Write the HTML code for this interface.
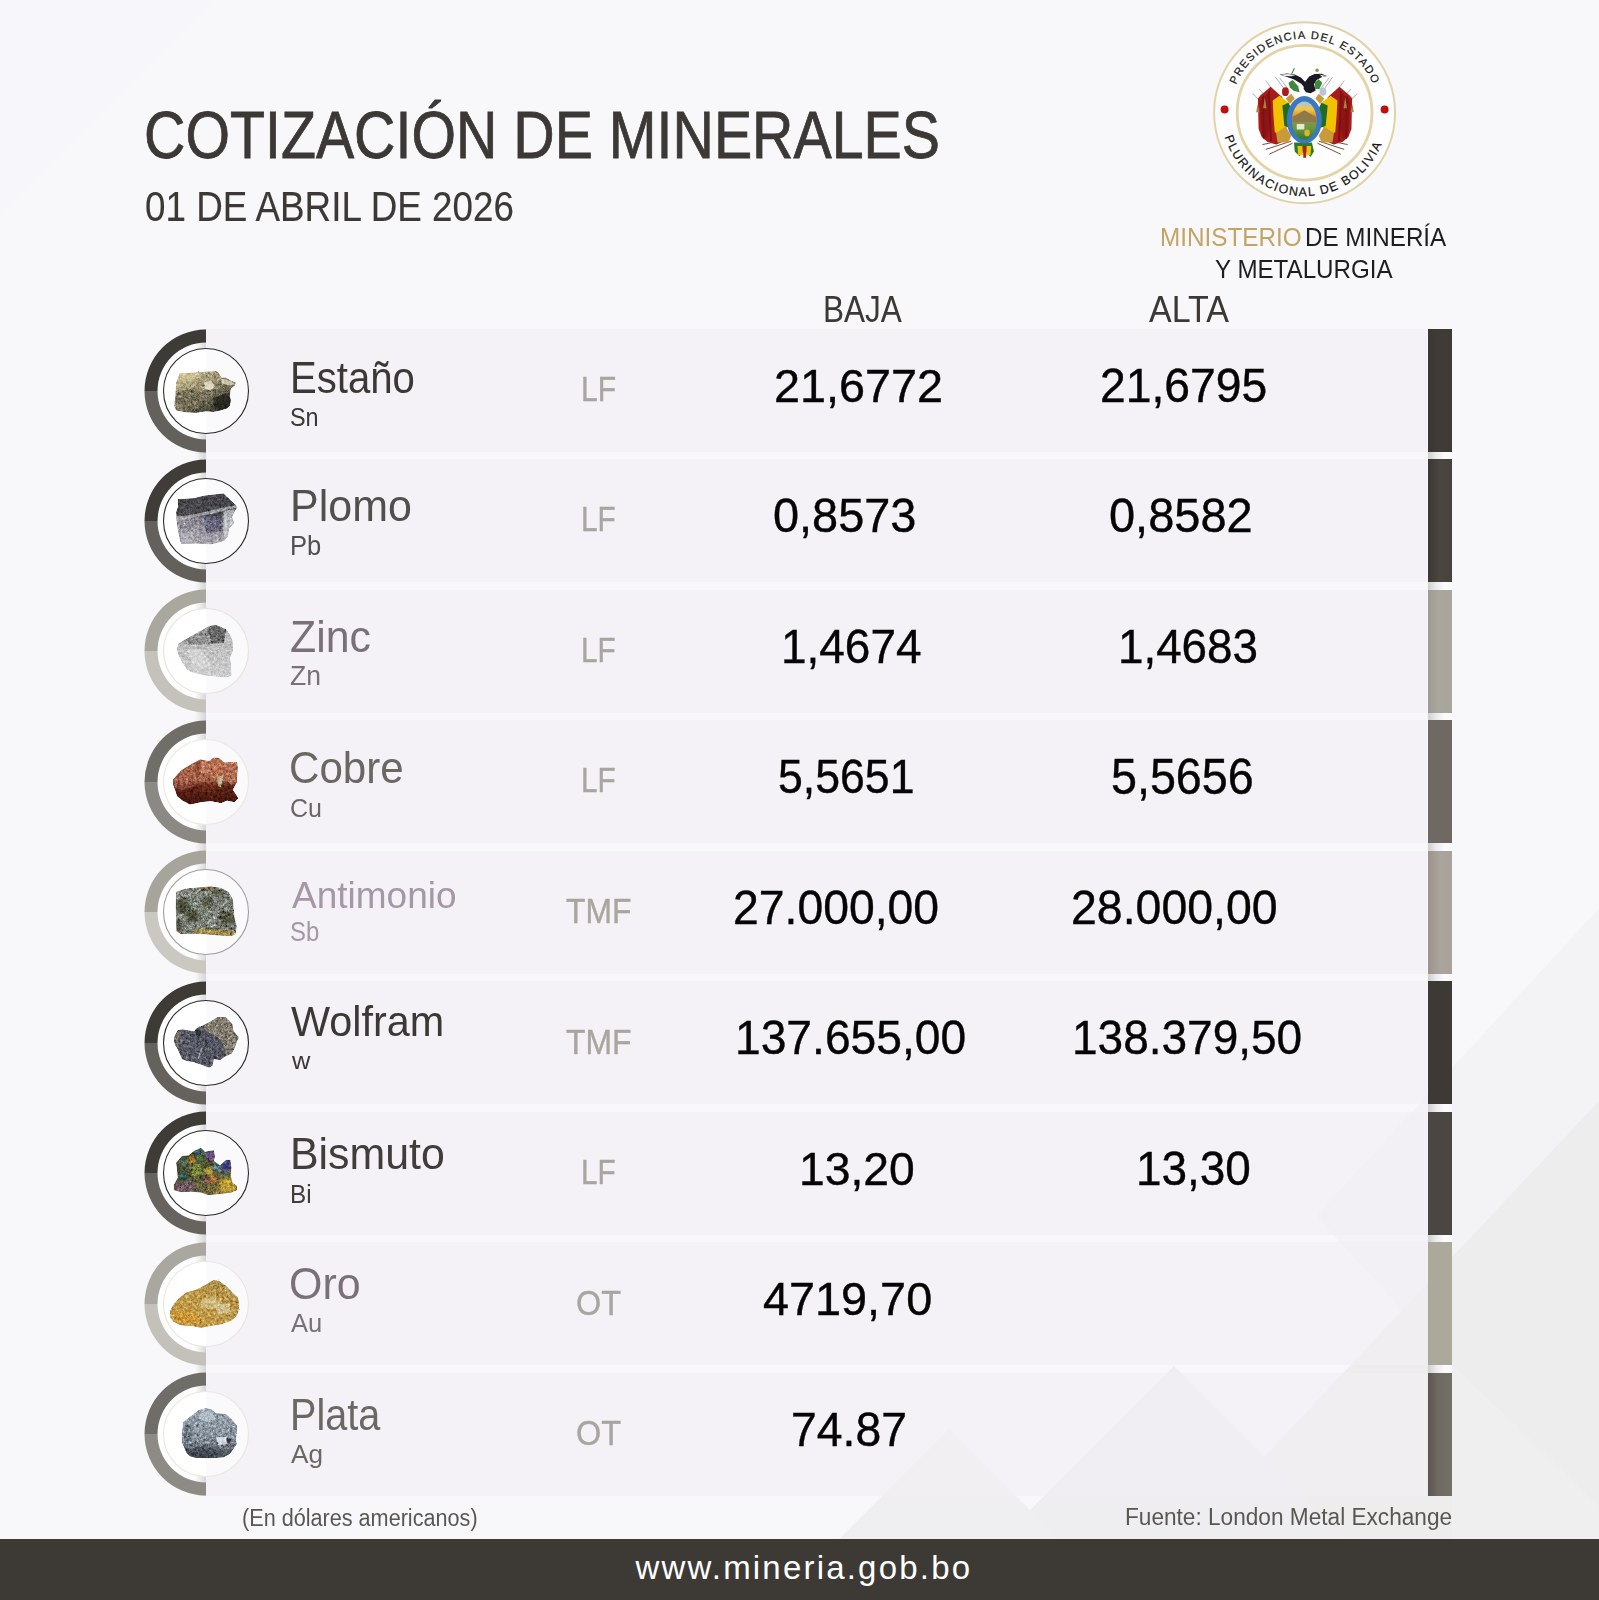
<!DOCTYPE html><html><head><meta charset="utf-8"><style>

*{margin:0;padding:0;box-sizing:border-box}
html,body{width:1599px;height:1600px;overflow:hidden}
body{position:relative;background:#f7f7fa;font-family:"Liberation Sans",sans-serif}
.t{position:absolute;white-space:nowrap;line-height:1;transform-origin:0 0}
.rowbox{position:absolute;left:206px;width:1221px;height:123px;background:rgba(241,238,244,0.6)}
.bar{position:absolute;left:1428px;width:24px;height:123px}
.ring{position:absolute;left:142px;overflow:visible}
.disc{position:absolute;left:161px;overflow:visible}
.footer{position:absolute;left:0;top:1539px;width:1599px;height:61px;background:#3d3a36}
.url{position:absolute;color:#ffffff;white-space:nowrap;line-height:1;transform-origin:0 0}

</style></head><body>
<svg style="position:absolute;left:0;top:0" width="1599" height="1600" viewBox="0 0 1599 1600">
<rect x="0" y="0" width="1599" height="1600" fill="#f8f8fb"/>
<polygon points="0,0 216,0 0,216" fill="#f7f6fb"/>
<polygon points="1599,908 1316,1216 1599,1524" fill="#f3f2f5"/>
<polygon points="1599,1101 1186,1540 1599,1540" fill="#ededee"/>
<polygon points="1452,1364 1599,1506 1599,1540 1452,1540" fill="#efefef"/>
<polygon points="1174,1366 1000,1540 1348,1540" fill="#eeeef0"/>
<polygon points="949,1429 838,1540 1060,1540" fill="#efeff1"/>
</svg>
<div style="position:absolute;left:1428px;top:329px;width:24px;height:1167px;background:linear-gradient(90deg,#cfcfcf,#ececee 35%,#fbfbfd 70%,#fafafc)"></div>
<div class="rowbox" style="top:329.00px"></div><div class="bar" style="top:329.00px;background:linear-gradient(90deg,#3a3733,#3f3c38 40%,#3e3b37)"></div>
<div class="rowbox" style="top:459.44px"></div><div class="bar" style="top:459.44px;background:linear-gradient(90deg,#3b3834,#4a4741 50%,#45423d)"></div>
<div class="rowbox" style="top:589.88px"></div><div class="bar" style="top:589.88px;background:linear-gradient(90deg,#9c9a91,#aaa89e 45%,#a8a69c)"></div>
<div class="rowbox" style="top:720.32px"></div><div class="bar" style="top:720.32px;background:#6e6a63"></div>
<div class="rowbox" style="top:850.76px"></div><div class="bar" style="top:850.76px;background:linear-gradient(90deg,#9a948c,#aaa49c 50%,#a8a29a)"></div>
<div class="rowbox" style="top:981.20px"></div><div class="bar" style="top:981.20px;background:#3d3a35"></div>
<div class="rowbox" style="top:1111.64px"></div><div class="bar" style="top:1111.64px;background:#4a4742"></div>
<div class="rowbox" style="top:1242.08px"></div><div class="bar" style="top:1242.08px;background:#aaa99c"></div>
<div class="rowbox" style="top:1372.52px"></div><div class="bar" style="top:1372.52px;background:linear-gradient(90deg,#5a5650,#6e6a62 40%,#737067)"></div>
<svg class="ring" style="top:326.50px" width="80" height="128" viewBox="142 -64 80 128"><path d="M206 -48.5 A48.5 48.5 0 0 0 206 48.5 Z" fill="#fdfdfd"/></svg>
<svg class="ring" style="top:456.94px" width="80" height="128" viewBox="142 -64 80 128"><path d="M206 -48.5 A48.5 48.5 0 0 0 206 48.5 Z" fill="#fdfdfd"/></svg>
<svg class="ring" style="top:587.38px" width="80" height="128" viewBox="142 -64 80 128"><path d="M206 -48.5 A48.5 48.5 0 0 0 206 48.5 Z" fill="#fdfdfd"/></svg>
<svg class="ring" style="top:717.82px" width="80" height="128" viewBox="142 -64 80 128"><path d="M206 -48.5 A48.5 48.5 0 0 0 206 48.5 Z" fill="#fdfdfd"/></svg>
<svg class="ring" style="top:848.26px" width="80" height="128" viewBox="142 -64 80 128"><path d="M206 -48.5 A48.5 48.5 0 0 0 206 48.5 Z" fill="#fdfdfd"/></svg>
<svg class="ring" style="top:978.70px" width="80" height="128" viewBox="142 -64 80 128"><path d="M206 -48.5 A48.5 48.5 0 0 0 206 48.5 Z" fill="#fdfdfd"/></svg>
<svg class="ring" style="top:1109.14px" width="80" height="128" viewBox="142 -64 80 128"><path d="M206 -48.5 A48.5 48.5 0 0 0 206 48.5 Z" fill="#fdfdfd"/></svg>
<svg class="ring" style="top:1239.58px" width="80" height="128" viewBox="142 -64 80 128"><path d="M206 -48.5 A48.5 48.5 0 0 0 206 48.5 Z" fill="#fdfdfd"/></svg>
<svg class="ring" style="top:1370.02px" width="80" height="128" viewBox="142 -64 80 128"><path d="M206 -48.5 A48.5 48.5 0 0 0 206 48.5 Z" fill="#fdfdfd"/></svg>
<div style="position:absolute;left:195px;top:329px;width:11px;height:1167px;background:linear-gradient(90deg,rgba(255,255,255,0),rgba(190,189,189,0.6))"></div>
<svg class="ring" style="top:326.50px" width="80" height="128" viewBox="142 -64 80 128">
<path d="M206 -61.5 A61.5 61.5 0 0 0 144.5 0 L157.5 0 A48.5 48.5 0 0 1 206 -48.5 Z" fill="#3e3b37"/>
<path d="M144.5 0 A61.5 61.5 0 0 0 206 61.5 L206 48.5 A48.5 48.5 0 0 1 157.5 0 Z" fill="#64615c"/>
</svg>
<svg class="ring" style="top:456.94px" width="80" height="128" viewBox="142 -64 80 128">
<path d="M206 -61.5 A61.5 61.5 0 0 0 144.5 0 L157.5 0 A48.5 48.5 0 0 1 206 -48.5 Z" fill="#403d39"/>
<path d="M144.5 0 A61.5 61.5 0 0 0 206 61.5 L206 48.5 A48.5 48.5 0 0 1 157.5 0 Z" fill="#64615c"/>
</svg>
<svg class="ring" style="top:587.38px" width="80" height="128" viewBox="142 -64 80 128">
<path d="M206 -61.5 A61.5 61.5 0 0 0 144.5 0 L157.5 0 A48.5 48.5 0 0 1 206 -48.5 Z" fill="#a9a79e"/>
<path d="M144.5 0 A61.5 61.5 0 0 0 206 61.5 L206 48.5 A48.5 48.5 0 0 1 157.5 0 Z" fill="#c4c2ba"/>
</svg>
<svg class="ring" style="top:717.82px" width="80" height="128" viewBox="142 -64 80 128">
<path d="M206 -61.5 A61.5 61.5 0 0 0 144.5 0 L157.5 0 A48.5 48.5 0 0 1 206 -48.5 Z" fill="#716d68"/>
<path d="M144.5 0 A61.5 61.5 0 0 0 206 61.5 L206 48.5 A48.5 48.5 0 0 1 157.5 0 Z" fill="#8c8984"/>
</svg>
<svg class="ring" style="top:848.26px" width="80" height="128" viewBox="142 -64 80 128">
<path d="M206 -61.5 A61.5 61.5 0 0 0 144.5 0 L157.5 0 A48.5 48.5 0 0 1 206 -48.5 Z" fill="#a7a49c"/>
<path d="M144.5 0 A61.5 61.5 0 0 0 206 61.5 L206 48.5 A48.5 48.5 0 0 1 157.5 0 Z" fill="#cbc8c1"/>
</svg>
<svg class="ring" style="top:978.70px" width="80" height="128" viewBox="142 -64 80 128">
<path d="M206 -61.5 A61.5 61.5 0 0 0 144.5 0 L157.5 0 A48.5 48.5 0 0 1 206 -48.5 Z" fill="#3e3b37"/>
<path d="M144.5 0 A61.5 61.5 0 0 0 206 61.5 L206 48.5 A48.5 48.5 0 0 1 157.5 0 Z" fill="#65625d"/>
</svg>
<svg class="ring" style="top:1109.14px" width="80" height="128" viewBox="142 -64 80 128">
<path d="M206 -61.5 A61.5 61.5 0 0 0 144.5 0 L157.5 0 A48.5 48.5 0 0 1 206 -48.5 Z" fill="#3f3c38"/>
<path d="M144.5 0 A61.5 61.5 0 0 0 206 61.5 L206 48.5 A48.5 48.5 0 0 1 157.5 0 Z" fill="#67645f"/>
</svg>
<svg class="ring" style="top:1239.58px" width="80" height="128" viewBox="142 -64 80 128">
<path d="M206 -61.5 A61.5 61.5 0 0 0 144.5 0 L157.5 0 A48.5 48.5 0 0 1 206 -48.5 Z" fill="#a9a79f"/>
<path d="M144.5 0 A61.5 61.5 0 0 0 206 61.5 L206 48.5 A48.5 48.5 0 0 1 157.5 0 Z" fill="#c3c1b9"/>
</svg>
<svg class="ring" style="top:1370.02px" width="80" height="128" viewBox="142 -64 80 128">
<path d="M206 -61.5 A61.5 61.5 0 0 0 144.5 0 L157.5 0 A48.5 48.5 0 0 1 206 -48.5 Z" fill="#706c67"/>
<path d="M144.5 0 A61.5 61.5 0 0 0 206 61.5 L206 48.5 A48.5 48.5 0 0 1 157.5 0 Z" fill="#8e8b86"/>
</svg>
<svg class="disc" style="top:345.50px" width="90" height="90" viewBox="-45 -45 90 90">
<path d="M0 -42.5 A42.5 42.5 0 0 0 0 42.5 Z" fill="#fefefe"/>
<circle cx="0" cy="0" r="42.5" fill="#ffffff" fill-opacity="0.5" stroke="#2b2b2b" stroke-width="1.1"/>
<defs><linearGradient id="mg0" x1="0" y1="0" x2="0.8" y2="1"><stop offset="0" stop-color="#d2c596"/><stop offset="0.45" stop-color="#9c9274"/><stop offset="0.75" stop-color="#5e5a48"/><stop offset="1" stop-color="#2e2d26"/></linearGradient><filter id="mb0" x="-20%" y="-20%" width="140%" height="140%"><feGaussianBlur stdDeviation="14"/></filter><filter id="mn0" x="-10%" y="-10%" width="120%" height="120%" color-interpolation-filters="sRGB"><feTurbulence type="fractalNoise" baseFrequency="0.025" numOctaves="2" seed="3" result="t1"/><feDisplacementMap in="SourceGraphic" in2="t1" scale="30" xChannelSelector="R" yChannelSelector="G" result="disp"/><feTurbulence type="fractalNoise" baseFrequency="0.018" numOctaves="3" seed="10" result="t2"/><feTurbulence type="fractalNoise" baseFrequency="0.07" numOctaves="1" seed="16" result="t3"/><feComposite in="t2" in2="t3" operator="arithmetic" k1="0" k2="0.6" k3="0.4" k4="0" result="t4"/><feColorMatrix in="t4" type="matrix" values="0.33 0.33 0.33 0 0  0.33 0.33 0.33 0 0  0.33 0.33 0.33 0 0  0 0 0 0 1" result="g"/><feComponentTransfer in="g" result="gc"><feFuncR type="linear" slope="1.9" intercept="-0.44999999999999996"/><feFuncG type="linear" slope="1.9" intercept="-0.44999999999999996"/><feFuncB type="linear" slope="1.9" intercept="-0.44999999999999996"/></feComponentTransfer><feBlend in="gc" in2="disp" mode="overlay" result="b"/><feComposite in="b" in2="disp" operator="in"/></filter><clipPath id="mc0"><polygon points="270,460 560,440 820,420 1000,410 1060,450 1110,540 1190,540 1300,600 1400,640 1380,700 1300,760 1280,900 1300,1000 1280,1100 1230,1160 1100,1200 950,1230 800,1220 600,1250 400,1240 200,1200 160,1100 180,950 190,800 200,650 240,540"/></clipPath></defs><g transform="translate(-40 -40.50) scale(0.05)"><g filter="url(#mn0)"><g clip-path="url(#mc0)"><polygon points="270,460 560,440 820,420 1000,410 1060,450 1110,540 1190,540 1300,600 1400,640 1380,700 1300,760 1280,900 1300,1000 1280,1100 1230,1160 1100,1200 950,1230 800,1220 600,1250 400,1240 200,1200 160,1100 180,950 190,800 200,650 240,540" fill="url(#mg0)"/><g filter="url(#mb0)"><polygon points="200,850 500,760 700,820 600,1000 400,1100 200,1050" fill="#6a6450" fill-opacity="0.7"/><polygon points="950,950 1200,850 1290,950 1280,1120 1050,1200 950,1100" fill="#26261f" fill-opacity="0.85"/><polygon points="760,640 900,600 980,720 880,800 780,760" fill="#eeead4" fill-opacity="0.8"/><polygon points="1100,560 1300,610 1380,680 1250,700 1120,650" fill="#e2dcc0" fill-opacity="0.8"/><polygon points="270,470 700,450 600,600 300,620" fill="#d8cc9c" fill-opacity="0.6"/></g></g></g></g>
</svg>
<svg class="disc" style="top:475.94px" width="90" height="90" viewBox="-45 -45 90 90">
<path d="M0 -42.5 A42.5 42.5 0 0 0 0 42.5 Z" fill="#fefefe"/>
<circle cx="0" cy="0" r="42.5" fill="#ffffff" fill-opacity="0.5" stroke="#2b2b2b" stroke-width="1.1"/>
<defs><linearGradient id="mg1" x1="0" y1="0" x2="0" y2="1"><stop offset="0" stop-color="#48474c"/><stop offset="0.42" stop-color="#4a494e"/><stop offset="0.5" stop-color="#8e8a94"/><stop offset="1" stop-color="#a9a6ae"/></linearGradient><filter id="mb1" x="-20%" y="-20%" width="140%" height="140%"><feGaussianBlur stdDeviation="14"/></filter><filter id="mn1" x="-10%" y="-10%" width="120%" height="120%" color-interpolation-filters="sRGB"><feTurbulence type="fractalNoise" baseFrequency="0.025" numOctaves="2" seed="4" result="t1"/><feDisplacementMap in="SourceGraphic" in2="t1" scale="30" xChannelSelector="R" yChannelSelector="G" result="disp"/><feTurbulence type="fractalNoise" baseFrequency="0.018" numOctaves="3" seed="11" result="t2"/><feTurbulence type="fractalNoise" baseFrequency="0.07" numOctaves="1" seed="17" result="t3"/><feComposite in="t2" in2="t3" operator="arithmetic" k1="0" k2="0.6" k3="0.4" k4="0" result="t4"/><feColorMatrix in="t4" type="matrix" values="0.33 0.33 0.33 0 0  0.33 0.33 0.33 0 0  0.33 0.33 0.33 0 0  0 0 0 0 1" result="g"/><feComponentTransfer in="g" result="gc"><feFuncR type="linear" slope="1.8" intercept="-0.4"/><feFuncG type="linear" slope="1.8" intercept="-0.4"/><feFuncB type="linear" slope="1.8" intercept="-0.4"/></feComponentTransfer><feBlend in="gc" in2="disp" mode="overlay" result="b"/><feComposite in="b" in2="disp" operator="in"/></filter><clipPath id="mc1"><polygon points="240,360 560,340 760,290 1150,245 1400,480 1420,540 1380,600 1320,720 1360,850 1260,950 1240,1100 1160,1200 900,1270 600,1250 300,1260 270,1150 230,950 210,800 200,620 240,500"/></clipPath></defs><g transform="translate(-40 -39.94) scale(0.05)"><g filter="url(#mn1)"><g clip-path="url(#mc1)"><polygon points="240,360 560,340 760,290 1150,245 1400,480 1420,540 1380,600 1320,720 1360,850 1260,950 1240,1100 1160,1200 900,1270 600,1250 300,1260 270,1150 230,950 210,800 200,620 240,500" fill="url(#mg1)"/><g filter="url(#mb1)"><polygon points="200,720 700,640 1000,560 1400,480 1420,540 1300,560 1000,640 700,700 400,760 210,800" fill="#c8ccd2" fill-opacity="0.6"/><polygon points="760,720 1120,700 1140,1000 800,1050" fill="#555470" fill-opacity="0.7"/><polygon points="1150,600 1380,560 1330,720 1360,850 1260,950 1240,1100 1160,1200 1150,900" fill="#c6cacc" fill-opacity="0.8"/><polygon points="300,1050 550,1000 560,1250 300,1260" fill="#b5b8bd" fill-opacity="0.7"/></g></g></g></g>
</svg>
<svg class="disc" style="top:606.38px" width="90" height="90" viewBox="-45 -45 90 90">
<path d="M0 -42.5 A42.5 42.5 0 0 0 0 42.5 Z" fill="#fefefe"/>
<circle cx="0" cy="0" r="42.5" fill="#ffffff" fill-opacity="0.5" stroke="#e8e4da" stroke-width="1.1"/>
<defs><linearGradient id="mg2" x1="0" y1="0" x2="0" y2="1"><stop offset="0" stop-color="#b5b5b5"/><stop offset="1" stop-color="#d0d0d0"/></linearGradient><filter id="mb2" x="-20%" y="-20%" width="140%" height="140%"><feGaussianBlur stdDeviation="14"/></filter><filter id="mn2" x="-10%" y="-10%" width="120%" height="120%" color-interpolation-filters="sRGB"><feTurbulence type="fractalNoise" baseFrequency="0.025" numOctaves="2" seed="5" result="t1"/><feDisplacementMap in="SourceGraphic" in2="t1" scale="30" xChannelSelector="R" yChannelSelector="G" result="disp"/><feTurbulence type="fractalNoise" baseFrequency="0.018" numOctaves="3" seed="12" result="t2"/><feTurbulence type="fractalNoise" baseFrequency="0.07" numOctaves="1" seed="18" result="t3"/><feComposite in="t2" in2="t3" operator="arithmetic" k1="0" k2="0.6" k3="0.4" k4="0" result="t4"/><feColorMatrix in="t4" type="matrix" values="0.33 0.33 0.33 0 0  0.33 0.33 0.33 0 0  0.33 0.33 0.33 0 0  0 0 0 0 1" result="g"/><feComponentTransfer in="g" result="gc"><feFuncR type="linear" slope="2.0" intercept="-0.5"/><feFuncG type="linear" slope="2.0" intercept="-0.5"/><feFuncB type="linear" slope="2.0" intercept="-0.5"/></feComponentTransfer><feBlend in="gc" in2="disp" mode="overlay" result="b"/><feComposite in="b" in2="disp" operator="in"/></filter><clipPath id="mc2"><polygon points="250,660 560,480 850,320 980,280 1200,370 1280,480 1330,600 1340,800 1280,950 1300,1100 1310,1300 1200,1340 800,1300 500,1230 420,1180 330,1050 240,870 220,760"/></clipPath></defs><g transform="translate(-40 -40.38) scale(0.05)"><g filter="url(#mn2)"><g clip-path="url(#mc2)"><polygon points="250,660 560,480 850,320 980,280 1200,370 1280,480 1330,600 1340,800 1280,950 1300,1100 1310,1300 1200,1340 800,1300 500,1230 420,1180 330,1050 240,870 220,760" fill="url(#mg2)"/><g filter="url(#mb2)"><polygon points="250,660 560,480 850,320 980,280 1200,370 1150,650 800,680 560,690" fill="#8e8e8e" fill-opacity="0.9"/><polygon points="850,330 1000,290 1200,380 1160,640 900,660" fill="#5a5a5a" fill-opacity="0.7"/><polygon points="420,800 700,760 900,1100 600,1200" fill="#e0e0e0" fill-opacity="0.6"/></g></g></g></g>
</svg>
<svg class="disc" style="top:736.82px" width="90" height="90" viewBox="-45 -45 90 90">
<path d="M0 -42.5 A42.5 42.5 0 0 0 0 42.5 Z" fill="#fefefe"/>
<circle cx="0" cy="0" r="42.5" fill="#ffffff" fill-opacity="0.5" stroke="#ece8e2" stroke-width="1.1"/>
<defs><linearGradient id="mg3" x1="0" y1="0" x2="0" y2="1"><stop offset="0" stop-color="#b06e55"/><stop offset="0.5" stop-color="#a4624a"/><stop offset="0.6" stop-color="#5e2418"/><stop offset="1" stop-color="#46160e"/></linearGradient><filter id="mb3" x="-20%" y="-20%" width="140%" height="140%"><feGaussianBlur stdDeviation="14"/></filter><filter id="mn3" x="-10%" y="-10%" width="120%" height="120%" color-interpolation-filters="sRGB"><feTurbulence type="fractalNoise" baseFrequency="0.025" numOctaves="2" seed="6" result="t1"/><feDisplacementMap in="SourceGraphic" in2="t1" scale="30" xChannelSelector="R" yChannelSelector="G" result="disp"/><feTurbulence type="fractalNoise" baseFrequency="0.018" numOctaves="3" seed="13" result="t2"/><feTurbulence type="fractalNoise" baseFrequency="0.07" numOctaves="1" seed="19" result="t3"/><feComposite in="t2" in2="t3" operator="arithmetic" k1="0" k2="0.6" k3="0.4" k4="0" result="t4"/><feColorMatrix in="t4" type="matrix" values="0.33 0.33 0.33 0 0  0.33 0.33 0.33 0 0  0.33 0.33 0.33 0 0  0 0 0 0 1" result="g"/><feComponentTransfer in="g" result="gc"><feFuncR type="linear" slope="1.9" intercept="-0.44999999999999996"/><feFuncG type="linear" slope="1.9" intercept="-0.44999999999999996"/><feFuncB type="linear" slope="1.9" intercept="-0.44999999999999996"/></feComponentTransfer><feBlend in="gc" in2="disp" mode="overlay" result="b"/><feComposite in="b" in2="disp" operator="in"/></filter><clipPath id="mc3"><polygon points="140,740 300,560 530,420 680,340 860,370 960,300 1060,310 1170,400 1420,390 1440,500 1420,800 1340,950 1450,1120 1370,1200 1220,1170 1100,1220 900,1180 700,1200 480,1250 330,1170 220,1080 180,960 140,850"/></clipPath></defs><g transform="translate(-40 -39.82) scale(0.05)"><g filter="url(#mn3)"><g clip-path="url(#mc3)"><polygon points="140,740 300,560 530,420 680,340 860,370 960,300 1060,310 1170,400 1420,390 1440,500 1420,800 1340,950 1450,1120 1370,1200 1220,1170 1100,1220 900,1180 700,1200 480,1250 330,1170 220,1080 180,960 140,850" fill="url(#mg3)"/><g filter="url(#mb3)"><polygon points="680,360 860,380 900,600 700,640" fill="#c98566" fill-opacity="0.7"/><polygon points="960,320 1160,420 1100,700 900,650" fill="#c07656" fill-opacity="0.7"/><polygon points="1020,700 1150,660 1100,900 1040,880" fill="#c8c8a0" fill-opacity="0.8"/><polygon points="560,430 680,350 700,640 600,700" fill="#8a4432" fill-opacity="0.6"/><polygon points="1170,420 1420,400 1420,800 1300,850 1180,700" fill="#b8785a" fill-opacity="0.6"/><polygon points="140,760 400,640 560,880 300,960 180,900" fill="#a8644e" fill-opacity="0.6"/><polygon points="600,850 900,800 1000,1000 700,1000" fill="#7a3424" fill-opacity="0.5"/></g></g></g></g>
</svg>
<svg class="disc" style="top:867.26px" width="90" height="90" viewBox="-45 -45 90 90">
<path d="M0 -42.5 A42.5 42.5 0 0 0 0 42.5 Z" fill="#fefefe"/>
<circle cx="0" cy="0" r="42.5" fill="#ffffff" fill-opacity="0.5" stroke="#9e9e9e" stroke-width="1.1"/>
<defs><linearGradient id="mg4" x1="0" y1="0" x2="1" y2="1"><stop offset="0" stop-color="#868c84"/><stop offset="1" stop-color="#767b70"/></linearGradient><filter id="mb4" x="-20%" y="-20%" width="140%" height="140%"><feGaussianBlur stdDeviation="20"/></filter><filter id="mn4" x="-10%" y="-10%" width="120%" height="120%" color-interpolation-filters="sRGB"><feTurbulence type="fractalNoise" baseFrequency="0.025" numOctaves="2" seed="7" result="t1"/><feDisplacementMap in="SourceGraphic" in2="t1" scale="30" xChannelSelector="R" yChannelSelector="G" result="disp"/><feTurbulence type="fractalNoise" baseFrequency="0.018" numOctaves="3" seed="14" result="t2"/><feTurbulence type="fractalNoise" baseFrequency="0.07" numOctaves="1" seed="20" result="t3"/><feComposite in="t2" in2="t3" operator="arithmetic" k1="0" k2="0.6" k3="0.4" k4="0" result="t4"/><feColorMatrix in="t4" type="matrix" values="0.33 0.33 0.33 0 0  0.33 0.33 0.33 0 0  0.33 0.33 0.33 0 0  0 0 0 0 1" result="g"/><feComponentTransfer in="g" result="gc"><feFuncR type="linear" slope="2.2" intercept="-0.6000000000000001"/><feFuncG type="linear" slope="2.2" intercept="-0.6000000000000001"/><feFuncB type="linear" slope="2.2" intercept="-0.6000000000000001"/></feComponentTransfer><feBlend in="gc" in2="disp" mode="overlay" result="b"/><feComposite in="b" in2="disp" operator="in"/></filter><clipPath id="mc4"><polygon points="200,400 400,330 700,310 900,290 1100,320 1250,400 1340,550 1360,750 1370,900 1420,1100 1390,1250 1300,1290 1000,1270 700,1240 500,1250 300,1250 210,1200 200,1000 190,700"/></clipPath></defs><g transform="translate(-40 -40.26) scale(0.05)"><g filter="url(#mn4)"><g clip-path="url(#mc4)"><polygon points="200,400 400,330 700,310 900,290 1100,320 1250,400 1340,550 1360,750 1370,900 1420,1100 1390,1250 1300,1290 1000,1270 700,1240 500,1250 300,1250 210,1200 200,1000 190,700" fill="url(#mg4)"/><g filter="url(#mb4)"><polygon points="600,1150 1000,1160 1380,1200 1390,1250 1300,1290 1000,1270 700,1240 560,1240" fill="#b0923e" fill-opacity="0.85"/><polygon points="650,300 900,290 1000,340 700,370" fill="#7a5a30" fill-opacity="0.85"/><polygon points="220,560 420,520 480,760 300,840 210,760" fill="#3e3e28" fill-opacity="0.75"/><polygon points="380,780 640,740 660,980 420,1000" fill="#3e3e28" fill-opacity="0.7"/><polygon points="1060,820 1320,780 1360,1040 1100,1040" fill="#3e3e28" fill-opacity="0.7"/><polygon points="720,520 940,520 920,720 740,700" fill="#3e3e28" fill-opacity="0.6"/><polygon points="900,340 1120,360 1200,480 980,500" fill="#3e3e28" fill-opacity="0.6"/><polygon points="200,980 320,930 300,1210 210,1200" fill="#3e3e28" fill-opacity="0.7"/><polygon points="800,900 1000,880 1000,1080 820,1080" fill="#a0a8a4" fill-opacity="0.5"/></g></g></g></g>
</svg>
<svg class="disc" style="top:997.70px" width="90" height="90" viewBox="-45 -45 90 90">
<path d="M0 -42.5 A42.5 42.5 0 0 0 0 42.5 Z" fill="#fefefe"/>
<circle cx="0" cy="0" r="42.5" fill="#ffffff" fill-opacity="0.5" stroke="#2b2b2b" stroke-width="1.1"/>
<defs><linearGradient id="mg5" x1="0" y1="0" x2="1" y2="0"><stop offset="0" stop-color="#5a5c68"/><stop offset="1" stop-color="#52545f"/></linearGradient><filter id="mb5" x="-20%" y="-20%" width="140%" height="140%"><feGaussianBlur stdDeviation="14"/></filter><filter id="mn5" x="-10%" y="-10%" width="120%" height="120%" color-interpolation-filters="sRGB"><feTurbulence type="fractalNoise" baseFrequency="0.025" numOctaves="2" seed="8" result="t1"/><feDisplacementMap in="SourceGraphic" in2="t1" scale="30" xChannelSelector="R" yChannelSelector="G" result="disp"/><feTurbulence type="fractalNoise" baseFrequency="0.018" numOctaves="3" seed="15" result="t2"/><feTurbulence type="fractalNoise" baseFrequency="0.07" numOctaves="1" seed="21" result="t3"/><feComposite in="t2" in2="t3" operator="arithmetic" k1="0" k2="0.6" k3="0.4" k4="0" result="t4"/><feColorMatrix in="t4" type="matrix" values="0.33 0.33 0.33 0 0  0.33 0.33 0.33 0 0  0.33 0.33 0.33 0 0  0 0 0 0 1" result="g"/><feComponentTransfer in="g" result="gc"><feFuncR type="linear" slope="2.0" intercept="-0.5"/><feFuncG type="linear" slope="2.0" intercept="-0.5"/><feFuncB type="linear" slope="2.0" intercept="-0.5"/></feComponentTransfer><feBlend in="gc" in2="disp" mode="overlay" result="b"/><feComposite in="b" in2="disp" operator="in"/></filter><clipPath id="mc5"><polygon points="150,700 230,540 330,520 560,560 620,490 740,440 880,370 1040,270 1200,280 1330,420 1350,560 1460,680 1420,760 1380,880 1320,1000 1200,1060 1080,1140 960,1120 930,1260 860,1290 700,1230 600,1200 560,1180 420,1160 320,1120 230,920 170,820"/></clipPath></defs><g transform="translate(-40 -39.70) scale(0.05)"><g filter="url(#mn5)"><g clip-path="url(#mc5)"><polygon points="150,700 230,540 330,520 560,560 620,490 740,440 880,370 1040,270 1200,280 1330,420 1350,560 1460,680 1420,760 1380,880 1320,1000 1200,1060 1080,1140 960,1120 930,1260 860,1290 700,1230 600,1200 560,1180 420,1160 320,1120 230,920 170,820" fill="url(#mg5)"/><g filter="url(#mb5)"><polygon points="740,440 880,370 1040,270 1200,280 1330,420 1350,560 1460,680 1420,760 1380,880 1320,1000 1200,1060 1150,800 1000,650 800,560" fill="#8a8272" fill-opacity="0.9"/><polygon points="150,700 230,540 280,600 250,900 200,850" fill="#8a8272" fill-opacity="0.7"/><polygon points="580,520 700,560 680,660 600,640" fill="#1e1e22" fill-opacity="0.8"/><polygon points="700,900 740,880 660,1100 630,1100" fill="#c8ccd8" fill-opacity="0.7"/></g></g></g></g>
</svg>
<svg class="disc" style="top:1128.14px" width="90" height="90" viewBox="-45 -45 90 90">
<path d="M0 -42.5 A42.5 42.5 0 0 0 0 42.5 Z" fill="#fefefe"/>
<circle cx="0" cy="0" r="42.5" fill="#ffffff" fill-opacity="0.5" stroke="#2b2b2b" stroke-width="1.1"/>
<defs><linearGradient id="mg6" x1="0" y1="0" x2="1" y2="1"><stop offset="0" stop-color="#3a4434"/><stop offset="0.5" stop-color="#5a5a3a"/><stop offset="1" stop-color="#8a7438"/></linearGradient><filter id="mb6" x="-20%" y="-20%" width="140%" height="140%"><feGaussianBlur stdDeviation="22"/></filter><filter id="mn6" x="-10%" y="-10%" width="120%" height="120%" color-interpolation-filters="sRGB"><feTurbulence type="fractalNoise" baseFrequency="0.025" numOctaves="2" seed="9" result="t1"/><feDisplacementMap in="SourceGraphic" in2="t1" scale="30" xChannelSelector="R" yChannelSelector="G" result="disp"/><feTurbulence type="fractalNoise" baseFrequency="0.018" numOctaves="3" seed="16" result="t2"/><feTurbulence type="fractalNoise" baseFrequency="0.07" numOctaves="1" seed="22" result="t3"/><feComposite in="t2" in2="t3" operator="arithmetic" k1="0" k2="0.6" k3="0.4" k4="0" result="t4"/><feColorMatrix in="t4" type="matrix" values="0.33 0.33 0.33 0 0  0.33 0.33 0.33 0 0  0.33 0.33 0.33 0 0  0 0 0 0 1" result="g"/><feComponentTransfer in="g" result="gc"><feFuncR type="linear" slope="2.2" intercept="-0.6000000000000001"/><feFuncG type="linear" slope="2.2" intercept="-0.6000000000000001"/><feFuncB type="linear" slope="2.2" intercept="-0.6000000000000001"/></feComponentTransfer><feBlend in="gc" in2="disp" mode="overlay" result="b"/><feComposite in="b" in2="disp" operator="in"/></filter><clipPath id="mc6"><polygon points="200,600 320,460 450,450 560,360 700,300 780,380 880,360 960,350 980,480 960,560 1080,650 1200,540 1290,540 1310,700 1300,860 1330,1000 1420,1060 1420,1150 1300,1200 1050,1230 850,1250 700,1200 500,1180 300,1190 150,1150 150,1050 230,900 220,750"/></clipPath></defs><g transform="translate(-40 -40.14) scale(0.05)"><g filter="url(#mn6)"><g clip-path="url(#mc6)"><polygon points="200,600 320,460 450,450 560,360 700,300 780,380 880,360 960,350 980,480 960,560 1080,650 1200,540 1290,540 1310,700 1300,860 1330,1000 1420,1060 1420,1150 1300,1200 1050,1230 850,1250 700,1200 500,1180 300,1190 150,1150 150,1050 230,900 220,750" fill="url(#mg6)"/><g filter="url(#mb6)"><polygon points="260,560 360,480 420,600 330,680" fill="#5a7a6a" fill-opacity="0.8"/><polygon points="450,470 570,470 590,600 480,610" fill="#c88e2a" fill-opacity="0.9"/><polygon points="560,380 700,310 760,400 650,470" fill="#3a6a78" fill-opacity="0.8"/><polygon points="500,660 680,650 700,840 520,860" fill="#8a9a3a" fill-opacity="0.9"/><polygon points="640,480 760,460 780,600 660,620" fill="#4a7a38" fill-opacity="0.8"/><polygon points="790,390 880,370 950,360 970,480 940,560 810,550" fill="#6a4a8c" fill-opacity="0.9"/><polygon points="1110,650 1200,560 1280,560 1300,700 1210,770 1120,750" fill="#3a3a9a" fill-opacity="0.9"/><polygon points="960,600 1080,660 1090,760 970,770" fill="#4a8aa8" fill-opacity="0.85"/><polygon points="760,720 900,700 960,820 800,850" fill="#c8b040" fill-opacity="0.85"/><polygon points="1080,920 1290,900 1400,1070 1400,1150 1290,1190 1070,1190" fill="#c8a83a" fill-opacity="0.85"/><polygon points="880,860 990,870 990,1010 900,1010" fill="#c87a30" fill-opacity="0.9"/><polygon points="170,1010 560,980 580,1170 300,1180 160,1140" fill="#7a5a6e" fill-opacity="0.85"/><polygon points="780,910 870,910 870,1000 780,1000" fill="#a84a6a" fill-opacity="0.8"/><polygon points="250,780 440,800 430,960 260,950" fill="#2e5a50" fill-opacity="0.85"/><polygon points="620,960 760,980 760,1150 620,1150" fill="#6a6a4a" fill-opacity="0.7"/><polygon points="1120,800 1280,800 1290,880 1120,880" fill="#4a6a6a" fill-opacity="0.8"/></g></g></g></g>
</svg>
<svg class="disc" style="top:1258.58px" width="90" height="90" viewBox="-45 -45 90 90">
<path d="M0 -42.5 A42.5 42.5 0 0 0 0 42.5 Z" fill="#fefefe"/>
<circle cx="0" cy="0" r="42.5" fill="#ffffff" fill-opacity="0.5" stroke="#ebe7de" stroke-width="1.1"/>
<defs><linearGradient id="mg7" x1="1" y1="0" x2="0" y2="1"><stop offset="0" stop-color="#b09450"/><stop offset="0.5" stop-color="#bf9c4c"/><stop offset="1" stop-color="#c49a44"/></linearGradient><filter id="mb7" x="-20%" y="-20%" width="140%" height="140%"><feGaussianBlur stdDeviation="14"/></filter><filter id="mn7" x="-10%" y="-10%" width="120%" height="120%" color-interpolation-filters="sRGB"><feTurbulence type="fractalNoise" baseFrequency="0.025" numOctaves="2" seed="10" result="t1"/><feDisplacementMap in="SourceGraphic" in2="t1" scale="30" xChannelSelector="R" yChannelSelector="G" result="disp"/><feTurbulence type="fractalNoise" baseFrequency="0.018" numOctaves="3" seed="17" result="t2"/><feTurbulence type="fractalNoise" baseFrequency="0.07" numOctaves="1" seed="23" result="t3"/><feComposite in="t2" in2="t3" operator="arithmetic" k1="0" k2="0.6" k3="0.4" k4="0" result="t4"/><feColorMatrix in="t4" type="matrix" values="0.33 0.33 0.33 0 0  0.33 0.33 0.33 0 0  0.33 0.33 0.33 0 0  0 0 0 0 1" result="g"/><feComponentTransfer in="g" result="gc"><feFuncR type="linear" slope="2.0" intercept="-0.5"/><feFuncG type="linear" slope="2.0" intercept="-0.5"/><feFuncB type="linear" slope="2.0" intercept="-0.5"/></feComponentTransfer><feBlend in="gc" in2="disp" mode="overlay" result="b"/><feComposite in="b" in2="disp" operator="in"/></filter><clipPath id="mc7"><polygon points="130,820 250,680 400,560 600,500 800,400 950,310 1050,320 1200,420 1330,560 1440,660 1470,800 1450,950 1400,1050 1300,1130 1100,1200 900,1230 700,1270 500,1230 300,1220 150,1150 70,1050 80,930"/></clipPath></defs><g transform="translate(-40 -39.58) scale(0.05)"><g filter="url(#mn7)"><g clip-path="url(#mc7)"><polygon points="130,820 250,680 400,560 600,500 800,400 950,310 1050,320 1200,420 1330,560 1440,660 1470,800 1450,950 1400,1050 1300,1130 1100,1200 900,1230 700,1270 500,1230 300,1220 150,1150 70,1050 80,930" fill="url(#mg7)"/><g filter="url(#mb7)"><polygon points="700,700 1000,650 1100,800 900,900 700,850" fill="#d8cc9a" fill-opacity="0.6"/><polygon points="950,800 1250,780 1300,950 1050,1000" fill="#dcd6b4" fill-opacity="0.6"/><polygon points="850,330 1050,330 1150,450 900,520" fill="#a89040" fill-opacity="0.6"/><polygon points="150,950 500,900 700,1100 500,1220 200,1150" fill="#d49a34" fill-opacity="0.6"/></g></g></g></g>
</svg>
<svg class="disc" style="top:1389.02px" width="90" height="90" viewBox="-45 -45 90 90">
<path d="M0 -42.5 A42.5 42.5 0 0 0 0 42.5 Z" fill="#fefefe"/>
<circle cx="0" cy="0" r="42.5" fill="#ffffff" fill-opacity="0.5" stroke="#ebe7de" stroke-width="1.1"/>
<defs><linearGradient id="mg8" x1="0" y1="0" x2="0" y2="1"><stop offset="0" stop-color="#98a4ae"/><stop offset="0.6" stop-color="#8a949e"/><stop offset="1" stop-color="#3e444c"/></linearGradient><filter id="mb8" x="-20%" y="-20%" width="140%" height="140%"><feGaussianBlur stdDeviation="14"/></filter><filter id="mn8" x="-10%" y="-10%" width="120%" height="120%" color-interpolation-filters="sRGB"><feTurbulence type="fractalNoise" baseFrequency="0.025" numOctaves="2" seed="11" result="t1"/><feDisplacementMap in="SourceGraphic" in2="t1" scale="30" xChannelSelector="R" yChannelSelector="G" result="disp"/><feTurbulence type="fractalNoise" baseFrequency="0.018" numOctaves="3" seed="18" result="t2"/><feTurbulence type="fractalNoise" baseFrequency="0.07" numOctaves="1" seed="24" result="t3"/><feComposite in="t2" in2="t3" operator="arithmetic" k1="0" k2="0.6" k3="0.4" k4="0" result="t4"/><feColorMatrix in="t4" type="matrix" values="0.33 0.33 0.33 0 0  0.33 0.33 0.33 0 0  0.33 0.33 0.33 0 0  0 0 0 0 1" result="g"/><feComponentTransfer in="g" result="gc"><feFuncR type="linear" slope="2.0" intercept="-0.5"/><feFuncG type="linear" slope="2.0" intercept="-0.5"/><feFuncB type="linear" slope="2.0" intercept="-0.5"/></feComponentTransfer><feBlend in="gc" in2="disp" mode="overlay" result="b"/><feComposite in="b" in2="disp" operator="in"/></filter><clipPath id="mc8"><polygon points="340,560 500,440 650,320 800,280 900,300 1000,380 1200,400 1330,520 1430,640 1420,800 1400,900 1420,1000 1350,1100 1280,1200 1150,1270 1000,1280 800,1290 600,1280 480,1250 400,1170 350,1050 310,950 310,800 330,680"/></clipPath></defs><g transform="translate(-40 -40.02) scale(0.05)"><g filter="url(#mn8)"><g clip-path="url(#mc8)"><polygon points="340,560 500,440 650,320 800,280 900,300 1000,380 1200,400 1330,520 1430,640 1420,800 1400,900 1420,1000 1350,1100 1280,1200 1150,1270 1000,1280 800,1290 600,1280 480,1250 400,1170 350,1050 310,950 310,800 330,680" fill="url(#mg8)"/><g filter="url(#mb8)"><polygon points="700,350 900,330 1000,500 800,560 650,480" fill="#c8d2da" fill-opacity="0.6"/><polygon points="1000,860 1200,860 1250,1000 1050,1020" fill="#e6ecf0" fill-opacity="0.8"/><polygon points="1200,880 1300,900 1280,1000 1220,990" fill="#3a3040" fill-opacity="0.8"/><polygon points="350,650 500,600 520,900 360,950" fill="#5a646e" fill-opacity="0.6"/><polygon points="400,1100 800,1050 1100,1150 1000,1280 600,1280 450,1230" fill="#3a4048" fill-opacity="0.6"/></g></g></g></g>
</svg>
<div class="t" style="left:144.13px;top:101.81px;font-size:66.38px;transform:scaleX(0.8636);color:#3b3835;-webkit-text-stroke:0.8px #3b3835">COTIZACIÓN DE MINERALES</div>
<div class="t" style="left:144.53px;top:186.01px;font-size:42.03px;transform:scaleX(0.8761);color:#3b3835;-webkit-text-stroke:0.15px #3b3835">01 DE ABRIL DE 2026</div>
<div class="t" style="left:822.98px;top:291.51px;font-size:36.52px;transform:scaleX(0.8633);color:#3b3835">BAJA</div>
<div class="t" style="left:1149.1px;top:291.75px;font-size:36.45px;transform:scaleX(0.934);color:#3b3835">ALTA</div>
<div class="t" style="left:289.89px;top:356.11px;font-size:44.35px;transform:scaleX(0.9042);color:#3b3835">Estaño</div>
<div class="t" style="left:290.06px;top:484.3px;font-size:43.91px;transform:scaleX(0.979);color:#52504d">Plomo</div>
<div class="t" style="left:290.22px;top:614.61px;font-size:44.35px;transform:scaleX(0.9648);color:#7a707a">Zinc</div>
<div class="t" style="left:289.39px;top:746.11px;font-size:44.0px;transform:scaleX(0.9575);color:#6b6863">Cobre</div>
<div class="t" style="left:291.5px;top:877.51px;font-size:36.23px;transform:scaleX(1.0218);color:#a597a7">Antimonio</div>
<div class="t" style="left:290.59px;top:1001.01px;font-size:41.88px;transform:scaleX(0.9886);color:#3b3835">Wolfram</div>
<div class="t" style="left:290.07px;top:1132.0px;font-size:43.77px;transform:scaleX(0.9794);color:#403d3a">Bismuto</div>
<div class="t" style="left:289.35px;top:1261.81px;font-size:44.14px;transform:scaleX(0.974);color:#7a707a">Oro</div>
<div class="t" style="left:290.33px;top:1392.81px;font-size:44.06px;transform:scaleX(0.8986);color:#6b6863">Plata</div>
<div class="t" style="left:290.13px;top:404.61px;font-size:25.43px;transform:scaleX(0.9211);color:#3b3835">Sn</div>
<div class="t" style="left:289.86px;top:532.01px;font-size:27.54px;transform:scaleX(0.9277);color:#52504d">Pb</div>
<div class="t" style="left:290.2px;top:663.01px;font-size:26.81px;transform:scaleX(0.9899);color:#7a707a">Zn</div>
<div class="t" style="left:289.75px;top:794.51px;font-size:26.43px;transform:scaleX(0.9459);color:#6b6863">Cu</div>
<div class="t" style="left:289.81px;top:918.62px;font-size:26.71px;transform:scaleX(0.8944);color:#a597a7">Sb</div>
<div class="t" style="left:291.5px;top:1049.42px;font-size:24.72px;transform:scaleX(1.0283);color:#3b3835">w</div>
<div class="t" style="left:290.05px;top:1181.51px;font-size:25.65px;transform:scaleX(0.9482);color:#403d3a">Bi</div>
<div class="t" style="left:291.0px;top:1309.91px;font-size:26.67px;transform:scaleX(0.9569);color:#7a707a">Au</div>
<div class="t" style="left:291.0px;top:1440.81px;font-size:26.09px;transform:scaleX(1.0013);color:#6b6863">Ag</div>
<div class="t" style="left:580.99px;top:371.0px;font-size:35.36px;transform:scaleX(0.8511);color:#a9a69e;-webkit-text-stroke:0.4px #a9a69e">LF</div>
<div class="t" style="left:581.42px;top:501.31px;font-size:35.22px;transform:scaleX(0.8437);color:#a9a69e;-webkit-text-stroke:0.4px #a9a69e">LF</div>
<div class="t" style="left:581.42px;top:632.81px;font-size:34.49px;transform:scaleX(0.8615);color:#a9a69e;-webkit-text-stroke:0.4px #a9a69e">LF</div>
<div class="t" style="left:581.42px;top:763.01px;font-size:34.78px;transform:scaleX(0.8543);color:#a9a69e;-webkit-text-stroke:0.4px #a9a69e">LF</div>
<div class="t" style="left:565.66px;top:893.0px;font-size:35.07px;transform:scaleX(0.9081);color:#a9a69e;-webkit-text-stroke:0.4px #a9a69e">TMF</div>
<div class="t" style="left:565.96px;top:1023.61px;font-size:35.36px;transform:scaleX(0.9021);color:#a9a69e;-webkit-text-stroke:0.4px #a9a69e">TMF</div>
<div class="t" style="left:581.42px;top:1153.81px;font-size:35.22px;transform:scaleX(0.8437);color:#a9a69e;-webkit-text-stroke:0.4px #a9a69e">LF</div>
<div class="t" style="left:576.38px;top:1285.51px;font-size:35.51px;transform:scaleX(0.9132);color:#a9a69e;-webkit-text-stroke:0.4px #a9a69e">OT</div>
<div class="t" style="left:576.38px;top:1415.0px;font-size:35.07px;transform:scaleX(0.9245);color:#a9a69e;-webkit-text-stroke:0.4px #a9a69e">OT</div>
<div class="t" style="left:773.66px;top:361.51px;font-size:47.14px;transform:scaleX(0.9923);color:#050505;-webkit-text-stroke:0.4px #050505">21,6772</div>
<div class="t" style="left:772.62px;top:491.01px;font-size:48.57px;transform:scaleX(0.9656);color:#050505;-webkit-text-stroke:0.4px #050505">0,8573</div>
<div class="t" style="left:780.83px;top:622.01px;font-size:48.55px;transform:scaleX(0.9461);color:#050505;-webkit-text-stroke:0.4px #050505">1,4674</div>
<div class="t" style="left:778.22px;top:753.01px;font-size:47.83px;transform:scaleX(0.9328);color:#050505;-webkit-text-stroke:0.4px #050505">5,5651</div>
<div class="t" style="left:732.68px;top:883.8px;font-size:47.57px;transform:scaleX(0.9739);color:#050505;-webkit-text-stroke:0.4px #050505">27.000,00</div>
<div class="t" style="left:734.9px;top:1014.41px;font-size:47.97px;transform:scaleX(0.9628);color:#050505;-webkit-text-stroke:0.4px #050505">137.655,00</div>
<div class="t" style="left:798.8px;top:1144.51px;font-size:47.1px;transform:scaleX(0.9813);color:#050505;-webkit-text-stroke:0.4px #050505">13,20</div>
<div class="t" style="left:762.86px;top:1275.01px;font-size:47.14px;transform:scaleX(0.9931);color:#050505;-webkit-text-stroke:0.4px #050505">4719,70</div>
<div class="t" style="left:791.48px;top:1406.3px;font-size:47.57px;transform:scaleX(0.974);color:#050505;-webkit-text-stroke:0.4px #050505">74.87</div>
<div class="t" style="left:1100.19px;top:361.71px;font-size:47.71px;transform:scaleX(0.9699);color:#050505;-webkit-text-stroke:0.4px #050505">21,6795</div>
<div class="t" style="left:1108.52px;top:491.21px;font-size:48.86px;transform:scaleX(0.9614);color:#050505;-webkit-text-stroke:0.4px #050505">0,8582</div>
<div class="t" style="left:1118.14px;top:622.01px;font-size:48.84px;transform:scaleX(0.9371);color:#050505;-webkit-text-stroke:0.4px #050505">1,4683</div>
<div class="t" style="left:1110.53px;top:752.51px;font-size:49.13px;transform:scaleX(0.9499);color:#050505;-webkit-text-stroke:0.4px #050505">5,5656</div>
<div class="t" style="left:1071.48px;top:882.81px;font-size:48.29px;transform:scaleX(0.9619);color:#050505;-webkit-text-stroke:0.4px #050505">28.000,00</div>
<div class="t" style="left:1071.72px;top:1012.8px;font-size:48.41px;transform:scaleX(0.95);color:#050505;-webkit-text-stroke:0.4px #050505">138.379,50</div>
<div class="t" style="left:1136.03px;top:1144.01px;font-size:48.84px;transform:scaleX(0.9403);color:#050505;-webkit-text-stroke:0.4px #050505">13,30</div>
<div class="t" style="left:242.0px;top:1505.91px;font-size:24.06px;transform:scaleX(0.8993);color:#5a5752">(En dólares americanos)</div>
<div class="t" style="left:1125.09px;top:1505.41px;font-size:23.77px;transform:scaleX(0.9522);color:#5a5752">Fuente: London Metal Exchange</div>
<div class="t" style="left:1159.66px;top:225.4px;font-size:25.22px;transform:scaleX(0.9633);color:#c3a462">MINISTERIO</div>
<div class="t" style="left:1305.46px;top:225.4px;font-size:25.22px;transform:scaleX(0.96);color:#1e1e1e">DE MINERÍA</div>
<div class="t" style="left:1214.52px;top:257.01px;font-size:25.22px;transform:scaleX(0.9576);color:#1e1e1e">Y METALURGIA</div>
<svg style="position:absolute;left:1200px;top:10px" width="210" height="210" viewBox="1200 10 210 210">
<defs>
<path id="tp" d="M1231.51 101.12 A74.0 74.0 0 0 1 1377.24 98.58"/>
<path id="bp" d="M1222.01 124.31 A83.4 83.4 0 0 0 1386.18 130.04"/>
</defs>
<circle cx="1304.6" cy="112.7" r="90.5" fill="#fefefe" stroke="#e2d2a8" stroke-width="2"/>
<circle cx="1304.6" cy="112.7" r="67.4" fill="none" stroke="#e3d3a6" stroke-width="2.8"/>
<circle cx="1224.6" cy="109.5" r="4" fill="#c00d0d"/>
<circle cx="1384.6" cy="109.5" r="4" fill="#c00d0d"/>
<text font-family="Liberation Sans" font-size="11.0" fill="#151515" stroke="#151515" stroke-width="0.2"><textPath href="#tp" startOffset="50.4%" text-anchor="middle" textLength="174" lengthAdjust="spacing">PRESIDENCIA DEL ESTADO</textPath></text>
<text font-family="Liberation Sans" font-size="12.4" fill="#151515" stroke="#151515" stroke-width="0.2"><textPath href="#bp" startOffset="49.5%" text-anchor="middle" textLength="205" lengthAdjust="spacing">PLURINACIONAL DE BOLIVIA</textPath></text>
<g transform="translate(1250 60) scale(0.068776)"><g stroke="#8c8fa0" stroke-width="10" fill="none"><line x1="40" y1="490" x2="200" y2="640"/><line x1="130" y1="420" x2="260" y2="560"/><line x1="230" y1="300" x2="330" y2="440"/><line x1="370" y1="250" x2="520" y2="450"/><line x1="430" y1="260" x2="560" y2="430"/><line x1="1560" y1="490" x2="1400" y2="640"/><line x1="1470" y1="420" x2="1340" y2="560"/><line x1="1370" y1="300" x2="1270" y2="440"/><line x1="1200" y1="250" x2="1060" y2="450"/><line x1="1150" y1="260" x2="1020" y2="430"/></g><g stroke="#6b4a3a" stroke-width="14" fill="none"><line x1="180" y1="1230" x2="560" y2="1150"/><line x1="230" y1="1300" x2="600" y2="1180"/><line x1="280" y1="1370" x2="620" y2="1210"/><line x1="1420" y1="1230" x2="1040" y2="1150"/><line x1="1370" y1="1300" x2="1000" y2="1180"/><line x1="1320" y1="1370" x2="980" y2="1210"/></g><polygon points="115,560 150,515 300,390 470,540 455,1200 380,1230 250,1190 170,1120 125,1000" fill="#a81c1c" /><polygon points="1485,560 1450,515 1300,390 1130,540 1145,1200 1220,1230 1350,1190 1430,1120 1475,1000" fill="#a81c1c" /><polygon points="140,600 260,480 300,900 250,1150 170,1100" fill="#8e1515" /><polygon points="1460,600 1340,480 1300,900 1350,1150 1430,1100" fill="#8e1515" /><polygon points="175,540 205,515 215,1150 190,1140" fill="#7e1010" /><polygon points="1425,540 1395,515 1385,1150 1410,1140" fill="#7e1010" /><polygon points="260,470 290,440 320,1180 290,1175" fill="#7e1010" /><polygon points="1340,470 1310,440 1280,1180 1310,1175" fill="#7e1010" /><polygon points="90,760 110,640 140,760" fill="#b08040" /><polygon points="1510,760 1490,640 1460,760" fill="#b08040" /><polygon points="190,700 215,540 240,700" fill="#b08040" /><polygon points="1410,700 1385,540 1360,700" fill="#b08040" /><polygon points="330,590 430,520 565,625 540,990 430,1080 360,1050 340,800" fill="#f2c200" /><polygon points="1270,590 1170,520 1035,625 1060,990 1170,1080 1240,1050 1260,800" fill="#f2c200" /><polygon points="470,660 560,620 600,700 585,990 500,960" fill="#1f6b22" /><polygon points="1130,660 1040,620 1000,700 1015,990 1100,960" fill="#1f6b22" /><polygon points="380,1060 520,970 600,1100 560,1200 400,1200" fill="#c89a3a" /><polygon points="1220,1060 1080,970 1000,1100 1040,1200 1200,1200" fill="#c89a3a" /><polygon points="520,560 600,490 650,560 580,640" fill="#c89a3a" /><polygon points="1080,560 1000,490 950,560 1020,640" fill="#c89a3a" /><ellipse cx="515" cy="460" rx="50" ry="65" fill="#a81c1c"/><ellipse cx="1060" cy="460" rx="50" ry="60" fill="#b8c4d8"/><polygon points="640,1200 900,1200 930,1330 880,1410 800,1320 720,1400 650,1330" fill="#2a7a2a" /><polygon points="690,1250 760,1250 770,1380 700,1390" fill="#f2c200" /><polygon points="820,1250 890,1250 880,1380 820,1390" fill="#f2c200" /><polygon points="770,1250 820,1250 815,1420 775,1420" fill="#b01e1e" /><ellipse cx="790" cy="870" rx="255" ry="345" fill="#3c78c2"/><defs><linearGradient id="sky" x1="0" x2="0" y1="0" y2="1"><stop offset="0" stop-color="#9cc8e8"/><stop offset="0.2" stop-color="#f4c64a"/><stop offset="0.35" stop-color="#e89a2c"/><stop offset="0.45" stop-color="#a08a50"/><stop offset="0.7" stop-color="#6a9a3a"/><stop offset="1" stop-color="#2f7a2a"/></linearGradient></defs><ellipse cx="790" cy="880" rx="180" ry="275" fill="url(#sky)"/><polygon points="620,830 790,730 960,830 960,900 620,900" fill="#8c7a48" /><rect x="680" y="930" width="110" height="80" fill="#e8e6d8"/><ellipse cx="830" cy="1060" rx="40" ry="50" fill="#e0b030"/><polygon points="560,330 620,290 700,380 720,470 640,450 580,400" fill="#3f8a3a" /><polygon points="940,330 1000,280 1050,330 1010,420 950,420" fill="#3f8a3a" /><polygon points="600,200 640,110 650,130 610,210" fill="#3f8a3a" /><circle cx="975" cy="150" r="25" fill="#7aa040"/><ellipse cx="790" cy="400" rx="22" ry="34" fill="#e6e8ee"/><polygon points="430,212 540,198 650,212 740,255 800,315 800,410 745,345 640,282 530,245" fill="#1a1a22" /><polygon points="790,330 860,240 940,202 1040,200 1120,232 1040,252 970,292 930,350 955,445 880,485 815,470 780,420" fill="#1a1a22" /><polygon points="450,210 560,203 660,222 600,238 500,232" fill="#e8ecf0" /><polygon points="1010,212 1110,232 1050,246" fill="#e8ecf0" /></g>
</svg>
<div class="footer"></div>
<div class="url" style="left:635.5px;top:1550.5px;font-size:33px;letter-spacing:2.2px">www.mineria.gob.bo</div>
</body></html>
